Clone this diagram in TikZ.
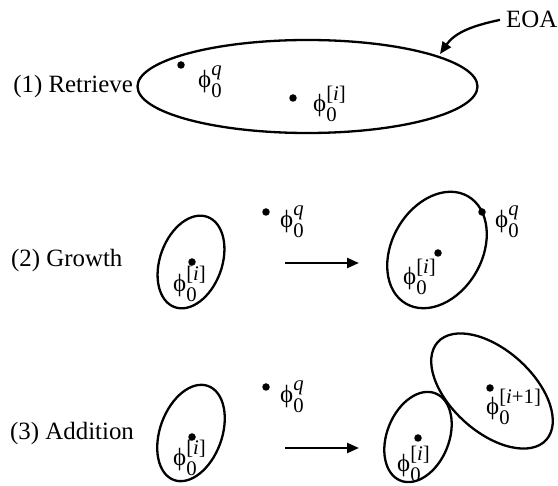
\documentclass[tikz,border=0pt]{standalone}
\usepackage{amsmath}
\usepackage{fontspec}
\setmainfont{Liberation Serif}
\usetikzlibrary{arrows.meta}
\newcommand{\myphi}{\mbox{ϕ}}
\newcommand{\phiq}{$\myphi_{\text{0}}^{\text{\itshape q}}$}
\newcommand{\phiidx}[1]{$\myphi_{\text{0}}^{\text{\raisebox{2pt}{[#1]}}}$}
\begin{document}
\begin{tikzpicture}[x=1pt,y=1pt,
  every node/.style={font=\fontsize{24.88}{30}\selectfont, inner sep=0pt},
  dot/.style={circle,fill=black,minimum size=7.5pt,inner sep=0pt},
  rim/.style={line width=2.3pt},
  lab/.style={anchor=base west},
  arr/.style={line width=2.3pt,-{Triangle[length=12pt,width=10pt]}}]
\useasboundingbox (0,0) rectangle (558,-486);

% ---------- Row 1: Retrieve ----------
\node[anchor=base east] (t1) at (133,-93) {(1) Retrieve};
\draw[rim] (307.5,-86.5) ellipse [x radius=170, y radius=46.5];
\node[dot] (d1q) at (181,-65) {};
\node[lab] (l1q) at (198,-88) {\phiq};
\node[dot] (d1i) at (293,-98) {};
\node[lab] (l1i) at (313,-112) {\phiidx{{\itshape i}}};
\node[anchor=base west] (eoa) at (506,-28) {EOA};
\coordinate (eoatip) at (440,-54);
\draw[arr] ([xshift=-6pt]eoa.west) to[out=192,in=55] (eoatip);

% ---------- Row 2: Growth ----------
\node[anchor=base west] (t2) at (11,-267) {(2) Growth};
\draw[rim] (191,-262) ellipse [x radius=31, y radius=48, rotate=-20];
\node[dot] (d2i) at (192,-262) {};
\node[lab] (l2i) at (173,-292) {\phiidx{{\itshape i}}};
\node[dot] (d2q) at (266,-212) {};
\node[lab] (l2q) at (280,-228) {\phiq};
\coordinate (a2s) at (285,-263);
\coordinate (a2e) at (359,-263);
\draw[arr] (a2s) -- (a2e);
\draw[rim] (437,-250) ellipse [x radius=45, y radius=62, rotate=-30];
\node[dot] (d2ri) at (438,-253) {};
\node[lab] (l2ri) at (403,-285) {\phiidx{{\itshape i}}};
\node[dot] (d2rq) at (482,-212) {};
\node[lab] (l2rq) at (495,-228) {\phiq};

% ---------- Row 3: Addition ----------
\node[anchor=base west] (t3) at (10,-440) {(3) Addition};
\draw[rim] (191,-433) ellipse [x radius=31, y radius=50, rotate=-20];
\node[dot] (d3i) at (192,-437) {};
\node[lab] (l3i) at (173,-466) {\phiidx{{\itshape i}}};
\node[dot] (d3q) at (266,-387) {};
\node[lab] (l3q) at (280,-403) {\phiq};
\coordinate (a3s) at (285,-448);
\coordinate (a3e) at (359,-448);
\draw[arr] (a3s) -- (a3e);
\draw[rim] (418,-437) ellipse [x radius=31, y radius=47, rotate=-22];
\node[dot] (d3ri) at (418,-438) {};
\node[lab] (l3ri) at (397,-472) {\phiidx{{\itshape i}}};
\draw[rim] (492,-391) ellipse [x radius=73, y radius=41, rotate=-42];
\node[dot] (d3n) at (490,-388) {};
\node[lab] (l3n) at (486,-415) {\phiidx{{\itshape i}+1}};
\end{tikzpicture}
\end{document}
